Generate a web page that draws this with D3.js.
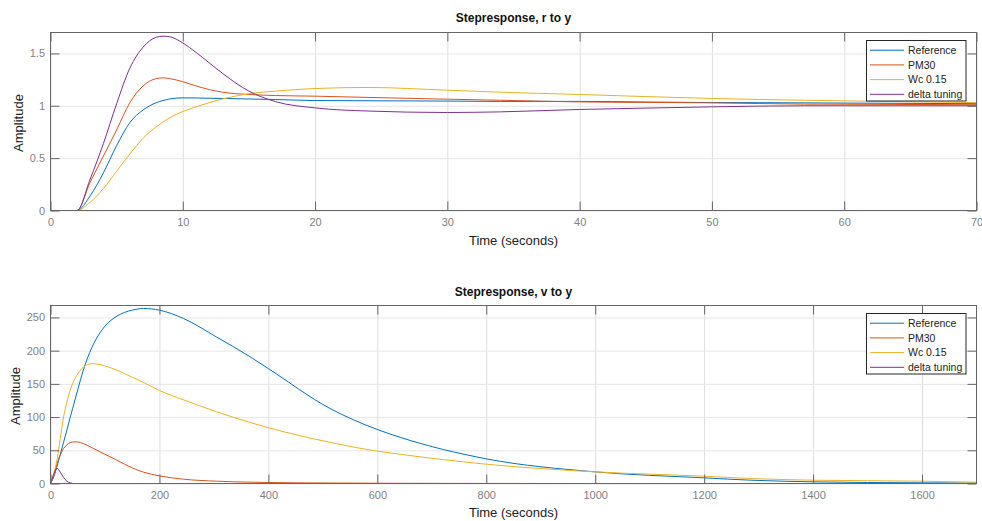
<!DOCTYPE html>
<html>
<head>
<meta charset="utf-8">
<script src="https://cdn.jsdelivr.net/npm/d3@7"></script>
<style>
  body { margin: 0; background: #fff; }
  svg { font-family: "Liberation Sans", Arial, Helvetica, sans-serif; display: block; }
</style>
</head>
<body>
<script>
// ------------  DATA  ------------
const seriesNames = ["Reference", "PM30", "Wc 0.15", "delta tuning"];

// step response r -> y
const timeR  = [0, 2, 3, 4, 5, 6, 7, 8, 8.5, 9, 10, 11, 12, 13, 15, 17, 20, 24, 30, 34, 40, 45, 50, 57, 60, 70];
const refR   = [0, 0, 0.14, 0.36, 0.62, 0.84, 0.96, 1.03, 1.05, 1.065, 1.076, 1.075, 1.072, 1.07, 1.065, 1.06, 1.05, 1.048, 1.045, 1.042, 1.042, 1.036, 1.031, 1.028, 1.026, 1.02];
const pm30R  = [0, 0, 0.27, 0.52, 0.77, 1.03, 1.19, 1.26, 1.267, 1.26, 1.23, 1.19, 1.155, 1.13, 1.108, 1.098, 1.092, 1.08, 1.063, 1.053, 1.037, 1.032, 1.028, 1.016, 1.015, 1.01];
const wcR    = [0, 0, 0.08, 0.21, 0.375, 0.54, 0.69, 0.80, 0.845, 0.885, 0.945, 0.99, 1.03, 1.065, 1.115, 1.14, 1.165, 1.175, 1.149, 1.13, 1.108, 1.088, 1.07, 1.053, 1.047, 1.03];
const deltaR = [0, 0, 0.3, 0.64, 1.02, 1.36, 1.56, 1.655, 1.665, 1.66, 1.60, 1.51, 1.41, 1.31, 1.14, 1.04, 0.98, 0.95, 0.936, 0.942, 0.965, 0.978, 0.99, 1.0, 1.0, 1.0];

// step response v -> y
const timeV  = [0, 6, 12, 18, 24, 30, 36, 45, 50, 60, 76, 91, 100, 122, 150, 171, 200, 244, 305, 366, 400, 513, 601, 642, 801, 1000, 1200, 1285, 1400, 1600, 1700];
const refV   = [0, 10, 26, 44, 62, 80, 99, 126, 141, 170, 205, 227, 237, 252, 261, 263.5, 261, 248.5, 220.5, 191, 173, 113, 81, 69.5, 37, 17.5, 8.5, 5, 2.5, 1, 0.6];
const pm30V  = [0, 12, 30, 43, 52.7, 58, 61.5, 62.7, 62.5, 60.2, 54, 47.6, 44, 35, 23.5, 17, 11.5, 6.5, 3.5, 2, 1.5, 0.7, 0.4, 0.3, 0.1, 0, 0, 0, 0, 0, 0];
const wcV    = [0, 15, 36, 68, 100, 122, 140, 158, 165, 175, 180.5, 179, 177, 170.6, 160, 152, 140, 126, 108, 92, 84, 62, 48.6, 44, 29, 17.5, 11, 7.5, 5, 3.5, 2];
const deltaV = [0, 14, 23, 17, 9, 3.5, 1, -0.3, -0.5, -0.4, -0.2, 0, 0, 0, 0, 0, 0, 0, 0, 0, 0, 0, 0, 0, 0, 0, 0, 0, 0, 0, 0];

const xTicksR = [0, 10, 20, 30, 40, 50, 60, 70];
const yTicksR = [0, 0.5, 1, 1.5];
const xTicksV = [0, 200, 400, 600, 800, 1000, 1200, 1400, 1600];
const yTicksV = [0, 50, 100, 150, 200, 250];

// ------------  PARAMETERS  ------------
const svgWidth = 982;
const svgHeight = 521;
const colors = ["#0072BD", "#D95319", "#EDB120", "#7E2F8E"];
const plotLeft = 50.5, plotRight = 976.5;

const panels = [
  { title: "Stepresponse, r to y", time: timeR, series: [refR, pm30R, wcR, deltaR],
    xDomain: [0, 70], yDomain: [0, 1.7], xTicks: xTicksR, yTicks: yTicksR,
    top: 32.5, bottom: 210.5, titleY: 22, xlabY: 244.5, ylabX: 22.5 },
  { title: "Stepresponse, v to y", time: timeV, series: [refV, pm30V, wcV, deltaV],
    xDomain: [0, 1700], yDomain: [0, 268], xTicks: xTicksV, yTicks: yTicksV,
    top: 305.5, bottom: 483.5, titleY: 295.5, xlabY: 516.5, ylabX: 20 }
];

const svg = d3.select("body").append("svg")
  .attr("width", svgWidth).attr("height", svgHeight);

panels.forEach(function (p, pi) {
  const x = d3.scaleLinear().domain(p.xDomain).range([plotLeft, plotRight]);
  const y = d3.scaleLinear().domain(p.yDomain).range([p.bottom, p.top]);
  const h = p.bottom - p.top;
  const w = plotRight - plotLeft;

  const g = svg.append("g");

  // ------------  GRID  ------------
  g.append("g")
    .attr("transform", "translate(0," + p.bottom + ")")
    .call(d3.axisBottom(x).tickValues(p.xTicks).tickSize(-h).tickFormat(""))
    .call(s => s.select(".domain").remove())
    .selectAll("line").attr("stroke", "#dedede");
  g.append("g")
    .attr("transform", "translate(" + plotLeft + ",0)")
    .call(d3.axisLeft(y).tickValues(p.yTicks).tickSize(-w).tickFormat(""))
    .call(s => s.select(".domain").remove())
    .selectAll("line").attr("stroke", "#e6e6e6");

  // ------------  LINES  ------------
  const clipId = "clip" + pi;
  svg.append("clipPath").attr("id", clipId)
    .append("rect").attr("x", plotLeft).attr("y", p.top - 1).attr("width", w).attr("height", h + 1.5);

  const line = d3.line()
    .x((d, i) => x(p.time[i]))
    .y(d => y(d))
    .curve(d3.curveMonotoneX);

  g.append("g").attr("clip-path", "url(#" + clipId + ")")
    .selectAll("path")
    .data(p.series)
    .enter()
    .append("path")
    .attr("d", d => line(d))
    .attr("fill", "none")
    .attr("stroke", (d, i) => colors[i])
    .attr("stroke-width", 1);

  // ------------  AXES  ------------
  const tickCol = "#666";
  const labCol = "#7f7f7f";
  const styleAxis = function (s) {
    s.select(".domain").remove();
    s.selectAll("line").attr("stroke", tickCol);
    s.selectAll("text").attr("fill", labCol).style("font-size", "11px")
      .style("font-family", '"Liberation Sans", Arial, sans-serif');
  };

  g.append("g")
    .attr("transform", "translate(0," + p.bottom + ")")
    .call(d3.axisBottom(x).tickValues(p.xTicks).tickSizeInner(-9).tickSizeOuter(0).tickPadding(8).tickFormat(d3.format("")))
    .call(styleAxis);
  g.append("g")
    .attr("transform", "translate(0," + p.top + ")")
    .call(d3.axisTop(x).tickValues(p.xTicks).tickSizeInner(-9).tickSizeOuter(0).tickFormat(""))
    .call(styleAxis);
  g.append("g")
    .attr("transform", "translate(" + plotLeft + ",0)")
    .call(d3.axisLeft(y).tickValues(p.yTicks).tickSizeInner(-9).tickSizeOuter(0).tickPadding(5.5).tickFormat(d3.format("")))
    .call(styleAxis);
  g.append("g")
    .attr("transform", "translate(" + plotRight + ",0)")
    .call(d3.axisRight(y).tickValues(p.yTicks).tickSizeInner(-9).tickSizeOuter(0).tickFormat(""))
    .call(styleAxis);

  g.append("rect")
    .attr("x", plotLeft).attr("y", p.top).attr("width", w).attr("height", h)
    .attr("fill", "none").attr("stroke", tickCol).attr("stroke-width", 1);

  // ------------  TEXTS  ------------
  g.append("text")
    .attr("x", (plotLeft + plotRight) / 2).attr("y", p.titleY)
    .attr("text-anchor", "middle").attr("font-weight", "bold").attr("font-size", 12)
    .attr("fill", "#111").text(p.title);
  g.append("text")
    .attr("x", (plotLeft + plotRight) / 2).attr("y", p.xlabY)
    .attr("text-anchor", "middle").attr("font-size", 13)
    .attr("fill", "#222").text("Time (seconds)");
  g.append("text")
    .attr("transform", "translate(" + p.ylabX + "," + ((p.top + p.bottom) / 2 + 1.5) + ") rotate(-90)")
    .attr("text-anchor", "middle").attr("font-size", 13)
    .attr("fill", "#222").text("Amplitude");

  // ------------  LEGEND  ------------
  const legX = 866.5, legY = p.top + 8;
  const leg = g.append("g");
  leg.append("rect")
    .attr("x", legX).attr("y", legY).attr("width", 99.5).attr("height", 60.5)
    .attr("fill", "#fff").attr("stroke", "#262626").attr("stroke-width", 1);
  const rows = leg.selectAll("g.row")
    .data(seriesNames)
    .enter()
    .append("g")
    .attr("transform", (d, i) => "translate(0," + (legY + 9.7 + i * 14.7) + ")");
  rows.append("line")
    .attr("x1", legX + 3.5).attr("x2", legX + 37.5)
    .attr("stroke", (d, i) => colors[i]).attr("stroke-width", 1);
  rows.append("text")
    .attr("x", legX + 41.5).attr("dy", "0.35em")
    .attr("font-size", 10.5).attr("fill", "#222")
    .text(d => d);
});
</script>
</body>
</html>
